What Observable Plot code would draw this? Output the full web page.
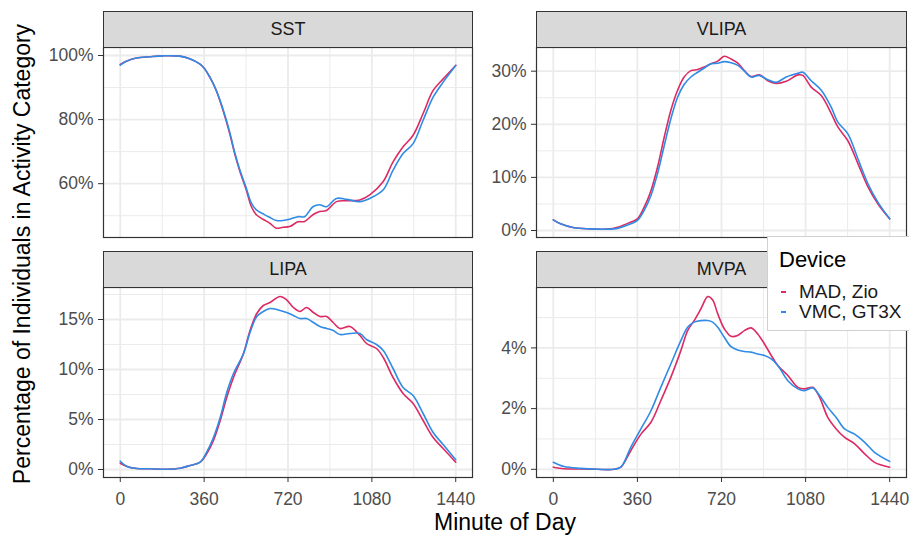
<!DOCTYPE html>
<html><head><meta charset="utf-8">
<script src="https://cdn.jsdelivr.net/npm/d3@7"></script>
<script src="https://cdn.jsdelivr.net/npm/@observablehq/plot@0.6"></script>
<style>
body{margin:0;background:#fff;font-family:"Liberation Sans",Arial,Helvetica,sans-serif;}
#chart{position:relative;width:909px;height:538px;overflow:hidden;background:#fff}
.panel{position:absolute}
.strip{position:absolute;background:#d9d9d9;border:1px solid #333;box-sizing:border-box;text-align:center;font-size:18px;color:#1a1a1a;}
.ytitle{position:absolute;left:22px;top:254px;transform:translate(-50%,-50%) rotate(-90deg);white-space:nowrap;font-size:23px;color:#000}
.xtitle{position:absolute;left:505px;top:522px;transform:translate(-50%,-50%);white-space:nowrap;font-size:23px;color:#000}
.legend{position:absolute;left:767px;top:236px;width:160px;height:95px;background:#fff;border:1px solid #d0d0d0;box-sizing:border-box}
.legend .lt{position:absolute;left:11px;top:11px;font-size:22px;line-height:24px;color:#000}
.legend .key{position:absolute;left:13px;width:5px;height:2px}
.legend .lab{position:absolute;left:31px;font-size:19px;line-height:19px;color:#1a1a1a;white-space:nowrap}
svg g[aria-label="y-axis tick"] path, svg g[aria-label="x-axis tick"] path{stroke:#333}
</style></head><body><div id="chart"></div>
<script>
const devices = ["MAD, Zio", "VMC, GT3X"];
const deviceColors = ["#dc2a63", "#2f8be5"];
const xTicks = [0, 360, 720, 1080, 1440];
const xMinor = [180, 540, 900, 1260];

const sstMinute = [0,26,69,126,183,255,298,341,362,384,412,441,470,491,512,541,563,584,613,641,670,699,727,763,791,827,856,885,928,971,1028,1071,1128,1171,1214,1257,1300,1343,1386,1440];
const sstMAD = [97.2,98.2,99.2,99.6,99.9,99.8,99.0,97.4,95.9,93.3,89.1,82.9,75.6,69.4,64.2,58.0,52.8,50.3,48.9,47.7,46.1,46.4,46.6,48.1,48.2,50.3,51.3,51.6,54.4,54.7,54.9,56.5,60.6,66.8,71.5,75.1,81.9,89.1,92.7,96.9];
const sstVMC = [97.0,98.2,99.2,99.6,99.9,99.8,99.0,97.4,95.9,93.3,89.1,83.2,76.0,69.8,64.6,58.6,53.9,51.8,50.6,49.5,48.5,48.5,48.9,49.7,49.7,52.8,53.4,52.8,55.4,55.1,54.4,55.4,58.0,64.2,69.4,72.5,79.8,87.0,91.7,96.9];

const vlipaMinute = [0,31,89,160,232,275,332,360,389,418,446,475,503,532,560,589,618,646,675,704,732,761,790,818,847,882,918,954,997,1047,1068,1104,1147,1190,1218,1261,1304,1347,1390,1440];
const vlipaMAD = [2.0,1.25,0.5,0.3,0.25,0.6,1.6,2.2,4.4,7.5,11.9,17.6,22.6,26.4,28.9,30.1,30.3,30.8,31.4,31.9,32.8,32.3,31.5,30.1,29.0,29.3,28.2,27.7,28.1,29.3,29.2,27.0,25.4,22.0,19.5,16.9,12.6,8.2,5.0,2.2];
const vlipaVMC = [2.0,1.25,0.5,0.3,0.25,0.4,1.25,1.9,3.8,6.6,10.7,16.0,21.0,25.1,27.5,28.9,29.8,30.6,31.4,31.5,31.8,31.6,31.1,30.0,28.9,29.2,28.4,27.9,28.9,29.6,29.8,28.2,26.4,23.2,20.4,18.2,13.5,8.8,5.3,2.2];

const lipaMinute = [0,29,71,129,200,257,300,343,371,400,429,457,486,529,557,586,614,643,686,714,743,771,800,829,857,886,914,943,986,1029,1057,1100,1129,1171,1214,1257,1300,1343,1386,1440];
const lipaMAD = [0.63,0.3,0.1,0.07,0.03,0.13,0.4,0.73,1.57,2.9,4.9,7.2,9.2,11.6,13.9,15.6,16.4,16.7,17.3,16.97,16.2,15.8,16.2,15.7,15.3,15.3,14.7,14.1,14.3,13.4,12.6,12.1,11.2,9.2,7.6,6.6,4.9,3.2,2.1,0.73];
const lipaVMC = [0.83,0.3,0.1,0.07,0.03,0.13,0.4,0.73,1.73,3.2,5.2,7.7,9.6,11.6,13.7,15.3,15.8,16.1,15.9,15.7,15.4,15.1,15.1,14.7,14.3,14.1,13.9,13.5,13.6,13.6,13.0,12.5,11.9,10.1,8.2,7.4,5.6,3.7,2.5,0.97];

const mvpaMinute = [0,46,117,189,260,289,332,375,418,460,503,546,575,603,632,661,682,704,732,761,789,818,847,875,904,933,961,1004,1047,1075,1111,1140,1175,1211,1247,1290,1333,1375,1440];
const mvpaMAD = [0.07,0.02,0.01,0,0,0.07,0.62,1.16,1.55,2.26,3.03,3.91,4.57,4.90,5.29,5.69,5.58,5.12,4.63,4.38,4.41,4.57,4.66,4.46,4.13,3.75,3.42,3.09,2.70,2.65,2.70,2.37,1.71,1.33,1.05,0.84,0.51,0.23,0.07];
const mvpaVMC = [0.23,0.09,0.03,0,0,0.07,0.73,1.33,1.93,2.70,3.47,4.24,4.68,4.85,4.90,4.90,4.85,4.68,4.35,4.04,3.93,3.88,3.86,3.80,3.75,3.64,3.42,2.92,2.65,2.59,2.68,2.43,2.04,1.71,1.33,1.16,0.89,0.56,0.26];

const panels = [
  {name:"SST", minute:sstMinute, mad:sstMAD, vmc:sstVMC, yDomain:[43.2,102.5], yTicks:[60,80,100], yMinor:[50,70,90], showX:false, left:103, top:47, w:369, h:190},
  {name:"VLIPA", minute:vlipaMinute, mad:vlipaMAD, vmc:vlipaVMC, yDomain:[-1.32,34.46], yTicks:[0,10,20,30], yMinor:[5,15,25], showX:false, left:536, top:47, w:370, h:190},
  {name:"LIPA", minute:lipaMinute, mad:lipaMAD, vmc:lipaVMC, yDomain:[-0.8,18.2], yTicks:[0,5,10,15], yMinor:[2.5,7.5,12.5,17.5], showX:true, left:103, top:287, w:369, h:190},
  {name:"MVPA", minute:mvpaMinute, mad:mvpaMAD, vmc:mvpaVMC, yDomain:[-0.27,5.99], yTicks:[0,2,4], yMinor:[1,3,5], showX:true, left:536, top:287, w:370, h:190}
];

const chart = document.getElementById("chart");
const ML = 70, MR = 2, MT = 2;

for (const p of panels) {
  const rows = [];
  p.minute.forEach((m, i) => rows.push({minute:m, value:p.mad[i], device:devices[0]}));
  p.minute.forEach((m, i) => rows.push({minute:m, value:p.vmc[i], device:devices[1]}));
  const MB = p.showX ? 40 : 2;
  const svg = Plot.plot({
    width: ML + p.w + MR, height: MT + p.h + MB,
    marginLeft: ML, marginRight: MR, marginTop: MT, marginBottom: MB,
    style: {fontFamily:'"Liberation Sans",Arial,Helvetica,sans-serif', fontSize:"17.5px", color:"#4d4d4d", background:"transparent", overflow:"visible"},
    x: {domain:[-72,1512], ticks:xTicks, tickSize:5, tickPadding:10, label:null, tickFormat:d=>String(d), axis: p.showX ? "bottom" : null},
    y: {domain:p.yDomain, ticks:p.yTicks, tickSize:5, tickPadding:5, label:null, tickFormat:d=>d+"%"},
    color: {domain:devices, range:deviceColors},
    marks: [
      Plot.ruleX(xMinor, {stroke:"#ebebeb", strokeWidth:1}),
      Plot.ruleY(p.yMinor, {stroke:"#ebebeb", strokeWidth:1}),
      Plot.ruleX(xTicks, {stroke:"#ebebeb", strokeWidth:1.8}),
      Plot.ruleY(p.yTicks, {stroke:"#ebebeb", strokeWidth:1.8}),
      Plot.line(rows, {x:"minute", y:"value", z:"device", stroke:"device", strokeWidth:1.6, curve:"catmull-rom"}),
      Plot.frame({stroke:"#333", strokeWidth:1.2})
    ]
  });
  svg.classList.add("panel");
  svg.style.left = (p.left - ML) + "px";
  svg.style.top = (p.top - MT) + "px";
  chart.appendChild(svg);

  const strip = document.createElement("div");
  strip.className = "strip";
  strip.style.left = p.left + "px";
  strip.style.top = (p.top - 36) + "px";
  strip.style.width = (p.w + 1) + "px";
  strip.style.height = "37px";
  strip.style.lineHeight = "35px";
  strip.textContent = p.name;
  chart.appendChild(strip);
}

const yt = document.createElement("div");
yt.className = "ytitle";
yt.textContent = "Percentage of Individuals in Activity Category";
chart.appendChild(yt);

const xt = document.createElement("div");
xt.className = "xtitle";
xt.textContent = "Minute of Day";
chart.appendChild(xt);

const lg = document.createElement("div");
lg.className = "legend";
const lt = document.createElement("div");
lt.className = "lt"; lt.textContent = "Device";
lg.appendChild(lt);
devices.forEach((d, i) => {
  const k = document.createElement("div");
  k.className = "key"; k.style.top = (54 + i*20) + "px"; k.style.background = deviceColors[i];
  lg.appendChild(k);
  const l = document.createElement("div");
  l.className = "lab"; l.style.top = (45 + i*20) + "px"; l.textContent = d;
  lg.appendChild(l);
});
chart.appendChild(lg);
</script></body></html>
